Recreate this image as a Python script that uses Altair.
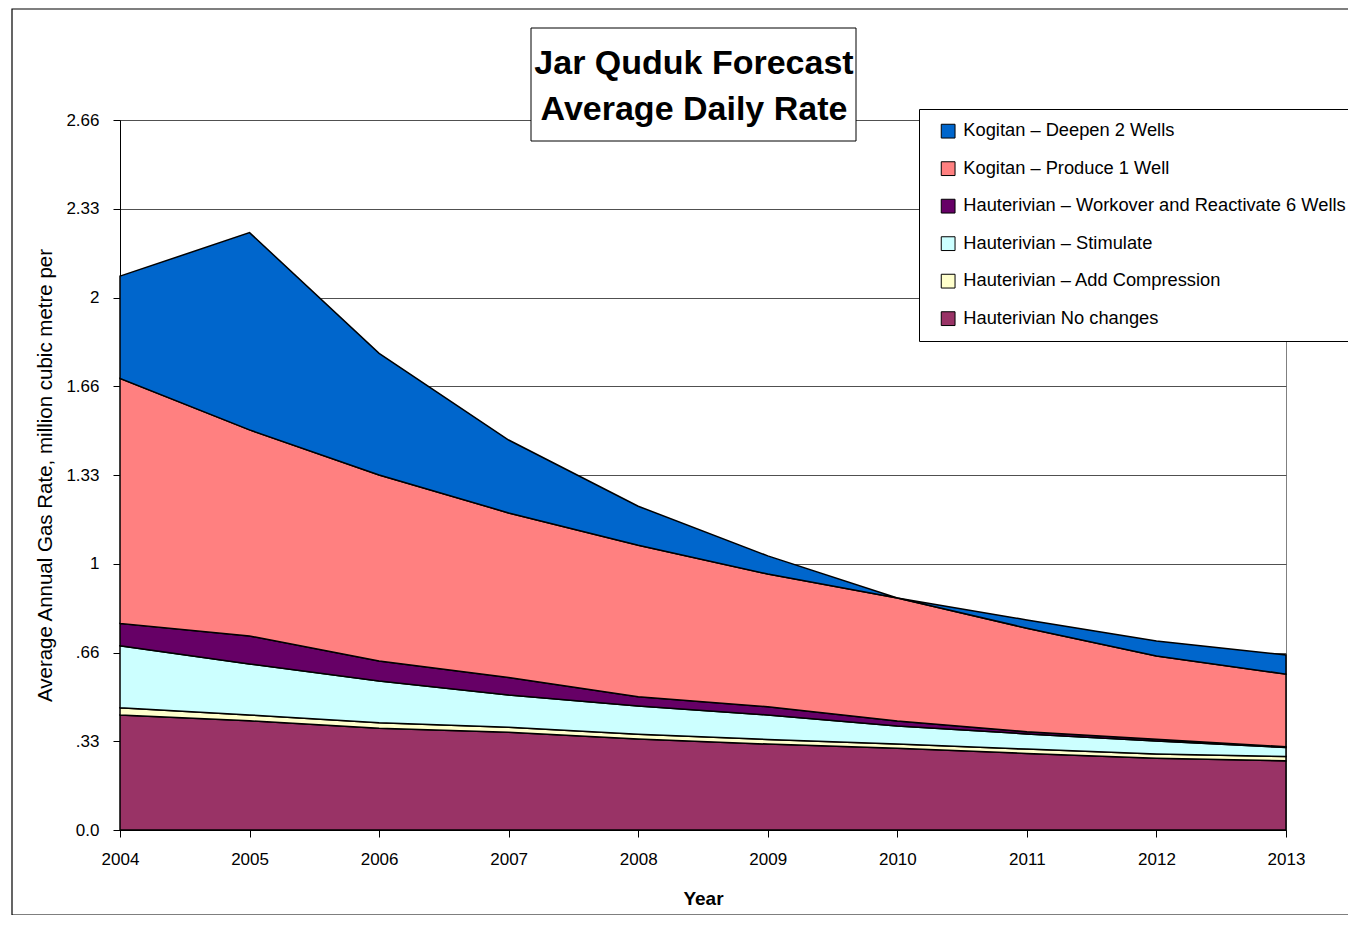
import altair as alt
import pandas as pd

years = [2004, 2005, 2006, 2007, 2008, 2009, 2010, 2011, 2012, 2013]

# series, bottom of stack first
series_names = [
    "Hauterivian No changes",
    "Hauterivian – Add Compression",
    "Hauterivian – Stimulate",
    "Hauterivian – Workover and Reactivate 6 Wells",
    "Kogitan – Produce 1 Well",
    "Kogitan – Deepen 2 Wells",
]
no_changes = [0.431, 0.409, 0.381, 0.366, 0.341, 0.322, 0.306, 0.287, 0.269, 0.259]
compression = [0.027, 0.022, 0.021, 0.019, 0.018, 0.017, 0.016, 0.016, 0.016, 0.016]
stimulate = [0.232, 0.191, 0.156, 0.121, 0.106, 0.092, 0.068, 0.057, 0.048, 0.034]
workover = [0.084, 0.105, 0.075, 0.065, 0.034, 0.031, 0.018, 0.008, 0.007, 0.003]
produce = [0.918, 0.772, 0.697, 0.617, 0.568, 0.497, 0.461, 0.388, 0.312, 0.272]
deepen = [0.383, 0.739, 0.456, 0.273, 0.146, 0.068, 0.000, 0.031, 0.056, 0.072]

series_values = [no_changes, compression, stimulate, workover, produce, deepen]
series_colors = ["#993366", "#FFFFCC", "#CCFFFF", "#660066", "#FF8080", "#0066CC"]

y_tick_values = [0, 0.3325, 0.665, 0.9975, 1.33, 1.6625, 1.995, 2.3275, 2.66]
y_tick_labels = ["0.0", ".33", ".66", "1", "1.33", "1.66", "2", "2.33", "2.66"]

title_text = "Jar Quduk Forecast\nAverage Daily Rate"
y_title = "Average Annual Gas Rate, million cubic  metre per"

rows = []
for i, (name, vals) in enumerate(zip(series_names, series_values)):
    for yr, v in zip(years, vals):
        rows.append({"Year": yr, "series": name, "value": v, "order": i})
df = pd.DataFrame(rows)

FONT = "Liberation Sans"

legend_order = list(reversed(series_names))
legend_colors = list(reversed(series_colors))

label_expr = "[" + ",".join("'%s'" % s for s in y_tick_labels) + "][round(datum.value/0.3325)]"

areas = alt.Chart(df).mark_area(stroke="black", strokeWidth=1.5, opacity=1).encode(
    x=alt.X("Year:Q",
            scale=alt.Scale(domain=[2004, 2013], nice=False),
            axis=alt.Axis(values=years, format="d", title="Year", grid=False,
                          tickSize=7, labelPadding=14, labelFontSize=17, labelFlush=False,
                          titleFontSize=19, titleFontWeight="bold",
                          titleBaseline="alphabetic", titleY=74)),
    y=alt.Y("value:Q", stack="zero",
            scale=alt.Scale(domain=[0, 2.66], nice=False),
            axis=alt.Axis(values=y_tick_values, labelExpr=label_expr, title=y_title,
                          grid=True, tickSize=7, labelPadding=14, labelFontSize=17,
                          labelFlush=False,
                          titleFontSize=20.5, titleFontWeight="normal",
                          titleBaseline="middle", titleX=-75)),
    color=alt.Color("series:N",
                    scale=alt.Scale(domain=legend_order, range=legend_colors),
                    sort=legend_order,
                    legend=alt.Legend(title=None, orient="none", legendX=799, legendY=-11,
                                      fillColor="white", strokeColor="black",
                                      padding=13, symbolType="square", symbolSize=190,
                                      symbolStrokeColor="black", symbolStrokeWidth=1,
                                      symbolOpacity=1, symbolOffset=7,
                                      labelFontSize=18.3, labelOffset=6, rowPadding=17.5,
                                      labelLimit=600)),
    order=alt.Order("order:Q"),
)

box_df = pd.DataFrame({"t": [title_text]})
title_box = alt.Chart(box_df).mark_rect(fill="white", stroke="#000", strokeWidth=1).encode(
    x=alt.value(411), x2=alt.value(736), y=alt.value(-92), y2=alt.value(21)
)
title_txt = alt.Chart(box_df).mark_text(
    font=FONT, fontSize=34, fontWeight="bold", lineBreak="\n", lineHeight=46,
    align="center", baseline="alphabetic", color="black"
).encode(text="t:N", x=alt.value(574), y=alt.value(-46))

frame = alt.Chart(box_df).mark_rect(fill=None, stroke="#000", strokeWidth=1.2).encode(
    x=alt.value(-108), x2=alt.value(1400), y=alt.value(-111), y2=alt.value(795)
)

chart = alt.layer(areas, title_box, title_txt, frame).properties(
    width=1166, height=710,
    autosize=alt.AutoSizeParams(type="none"),
    padding={"left": 112, "top": 112, "right": 62, "bottom": 85},
    background="white",
).configure(font=FONT).configure_view(
    stroke="#808080", strokeWidth=1
).configure_axis(
    labelFont=FONT, titleFont=FONT, labelColor="black", titleColor="black",
    domainColor="black", tickColor="black", gridColor="#505050", gridWidth=1,
    domainWidth=1,
).configure_legend(labelFont=FONT, labelColor="black")

chart.save("out.html", embed_options={"renderer": "svg", "actions": False})
